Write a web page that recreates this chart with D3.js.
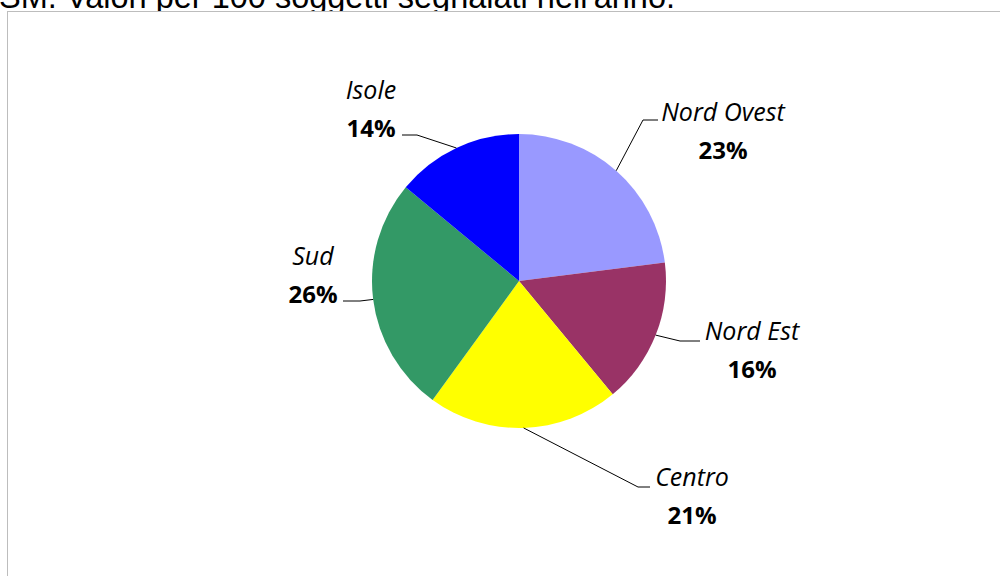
<!DOCTYPE html>
<html>
<head>
<meta charset="utf-8">
<script src="https://cdn.jsdelivr.net/npm/d3@7"></script>
<style>
  body { margin: 0; background: #fff; overflow: hidden; }
  svg { display: block; }
</style>
</head>
<body>
<svg id="chart" width="1000" height="576"></svg>
<script>
// dati
const regions = ["Nord Ovest", "Nord Est", "Centro", "Sud", "Isole"];
const shares = [23, 16, 21, 26, 14];
const colors = ["#9999FF", "#993366", "#FFFF00", "#339966", "#0000FF"];

// etichette: centro x, baseline del nome (layout come nel grafico originale)
const labelPos = [[723, 121], [752, 340], [692, 486], [313, 265], [371, 99]];
// gomito e fine delle linee guida
const leaderElbow = [[643, 120], [680, 341], [638, 487], [360, 301], [417, 135]];
const leaderEnd = [[658, 120], [700, 341], [650, 487], [343, 301], [402, 135]];

const svg = d3.select("#chart");

// titolo (tagliato in alto)
svg.append("text")
  .attr("x", 675)
  .attr("y", 7.5)
  .attr("text-anchor", "end")
  .attr("font-family", "Liberation Sans, Arial, sans-serif")
  .attr("font-size", 32.5)
  .attr("fill", "#000")
  .text("SM. Valori per 100 soggetti segnalati nell'anno.");

// riquadro del grafico
svg.append("rect")
  .attr("x", 7.5)
  .attr("y", 11.5)
  .attr("width", 1100)
  .attr("height", 700)
  .attr("fill", "#fff")
  .attr("stroke", "#bdbdbd")
  .attr("stroke-width", 1);

const cx = 519, cy = 281, r = 147;

const pie = d3.pie().sort(null).value(d => d);
const arcs = pie(shares);
const arc = d3.arc().innerRadius(0).outerRadius(r);
const edge = d3.arc().innerRadius(r).outerRadius(r);

const g = svg.append("g").attr("transform", `translate(${cx},${cy})`);

g.selectAll("path.slice")
  .data(arcs)
  .join("path")
  .attr("class", "slice")
  .attr("d", arc)
  .attr("fill", (d, i) => colors[i]);

// linee guida
svg.selectAll("polyline.leader")
  .data(arcs)
  .join("polyline")
  .attr("class", "leader")
  .attr("points", (d, i) => {
    const p = edge.centroid(d);
    return [[p[0] + cx, p[1] + cy], leaderElbow[i], leaderEnd[i]].map(q => q.join(",")).join(" ");
  })
  .attr("fill", "none")
  .attr("stroke", "#000")
  .attr("stroke-width", 1);

// etichette
const labels = svg.selectAll("g.label")
  .data(arcs)
  .join("g")
  .attr("class", "label")
  .attr("font-family", "Open Sans, sans-serif")
  .attr("text-anchor", "middle")
  .attr("fill", "#000");

labels.append("text")
  .attr("x", (d, i) => labelPos[i][0])
  .attr("y", (d, i) => labelPos[i][1])
  .attr("font-size", 25)
  .attr("font-style", "italic")
  .text((d, i) => regions[i]);

labels.append("text")
  .attr("x", (d, i) => labelPos[i][0])
  .attr("y", (d, i) => labelPos[i][1] + 38)
  .attr("font-size", 24)
  .attr("font-weight", "bold")
  .text(d => d.data + "%");
</script>
</body>
</html>
